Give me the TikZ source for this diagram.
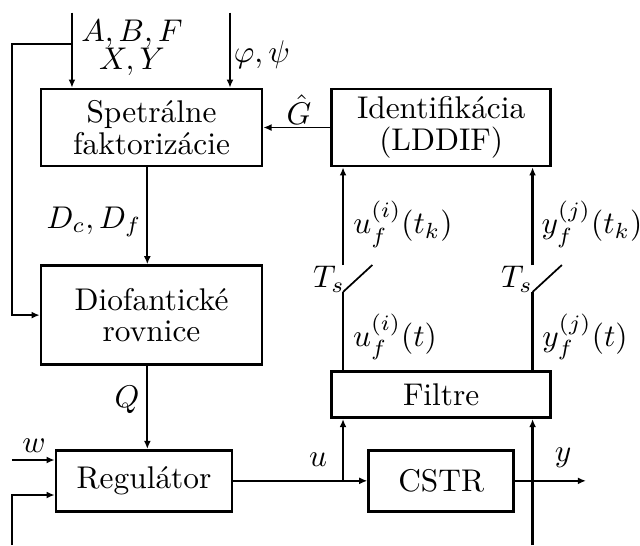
\documentclass[tikz,border=0pt]{standalone}
\usetikzlibrary{arrows.meta,positioning}

\begin{document}
\begin{tikzpicture}[
    node distance=0.8cm,
    block/.style={rectangle, draw=black, line width=0.85pt, minimum width=2.475cm, minimum height=0.862cm, inner sep=2pt, align=center, font=\fontsize{10}{10}\selectfont},
    wire/.style={line width=0.55pt},
    thwire/.style={line width=0.85pt},
    arrow/.style={-{Latex[length=2.6pt,width=2.2pt]}, line width=0.55pt},
    tharrow/.style={-{Latex[length=2.6pt,width=2.2pt]}, line width=0.85pt},
    lab/.style={inner sep=0pt, align=center, font=\fontsize{10}{9}\selectfont}
]
\useasboundingbox (0,0) rectangle (7.168,-6.104);

\node[block] (spek) at (1.697,-1.428) {Spetrálne\\faktorizácie};
\node[block, right=0.75cm of spek, minimum width=2.453cm] (ident) {Identifikácia\\(LDDIF)};
\node[block, below=1.086cm of spek, minimum height=1.109cm] (dio) {Diofantické\\rovnice};
\node[block, below=0.93cm of dio, xshift=-0.084cm, minimum width=1.971cm, minimum height=0.683cm] (reg) {Regulátor};
\node[block, right=1.501cm of reg, minimum width=1.624cm, minimum height=0.683cm] (cstr) {CSTR};
\node[block, above=0.336cm of cstr, minimum width=2.453cm, minimum height=0.515cm] (filtre) {Filtre};

% free ends and switch points
\coordinate (inA) at (0.806,-0.14);
\coordinate (inB) at (2.576,-0.14);
\coordinate (fbA) at (0.806,-0.493);
\coordinate (fbL) at (0.134,-0.493);
\coordinate (vQ) at (1.65,0);
\coordinate (wIn) at (0.134,-5.152);
\coordinate (yFb) at (0.134,-6.104);
\coordinate (yFbR) at (0.134,-5.544);
\coordinate (uJ) at (3.842,-5.326);
\coordinate (swAlo) at (3.842,-3.270);
\coordinate (swAhi) at (3.842,-2.968);
\coordinate (swAend) at (4.17,-2.968);
\coordinate (swBlo) at (5.965,-3.270);
\coordinate (swBhi) at (5.965,-2.968);
\coordinate (swBend) at (6.293,-2.968);
\coordinate (yMeas) at (5.965,-6.104);
\coordinate (yOut) at (6.563,-5.326);

% labels
\node[lab] (lAB) at (1.478,-0.538) {$A,B,F$\\$X,Y$};
\node[lab] (lphi) at (2.934,-0.616) {$\varphi,\psi$};
\node[lab] (lG) at (3.349,-1.23) {$\hat{G}$};
\node[lab] (lD) at (1.053,-2.486) {$D_c,D_f$};
\node[lab] (lQ) at (1.422,-4.48) {$Q$};
\node[lab] (lw) at (0.381,-4.995) {$w$};
\node[lab] (lu) at (3.562,-5.152) {$u$};
\node[lab] (ly) at (6.306,-5.13) {$y$};
\node[lab] (lTa) at (3.685,-3.13) {$T_s$};
\node[lab] (lTb) at (5.79,-3.13) {$T_s$};
\node[lab] (luk) at (4.514,-2.509) {$u_f^{(i)}(t_k)$};
\node[lab] (lyk) at (6.63,-2.509) {$y_f^{(j)}(t_k)$};
\node[lab] (lut) at (4.424,-3.774) {$u_f^{(i)}(t)$};
\node[lab] (lyt) at (6.552,-3.774) {$y_f^{(j)}(t)$};

\draw[arrow] (inA) -- (inA |- spek.north);
\draw[arrow] (inB) -- (inB |- spek.north);
\draw[tharrow] (fbA) -- (fbL) |- (dio.west);
\draw[arrow] (ident.west) -- (spek.east);
\draw[arrow] (vQ |- spek.south) -- (vQ |- dio.north);
\draw[arrow] (vQ |- dio.south) -- (vQ |- reg.north);
\draw[tharrow] (wIn) -- (wIn -| reg.west);
\draw[tharrow] (yFb) |- (yFbR -| reg.west);
\draw[arrow] (reg.east) -- (cstr.west);
\draw[tharrow] (reg.east -| uJ) -- (uJ |- filtre.south);
\draw[arrow] (cstr.east) -- (cstr.east -| yOut);
\draw[tharrow] (yMeas) -- (yMeas |- filtre.south);

% sampling switches
\draw[thwire] (swAlo |- filtre.north) -- (swAlo);
\draw[wire] (swAlo) -- (swAend);
\draw[tharrow] (swAhi) -- (swAhi |- ident.south);
\draw[thwire] (swBlo |- filtre.north) -- (swBlo);
\draw[wire] (swBlo) -- (swBend);
\draw[tharrow] (swBhi) -- (swBhi |- ident.south);
\end{tikzpicture}
\end{document}
